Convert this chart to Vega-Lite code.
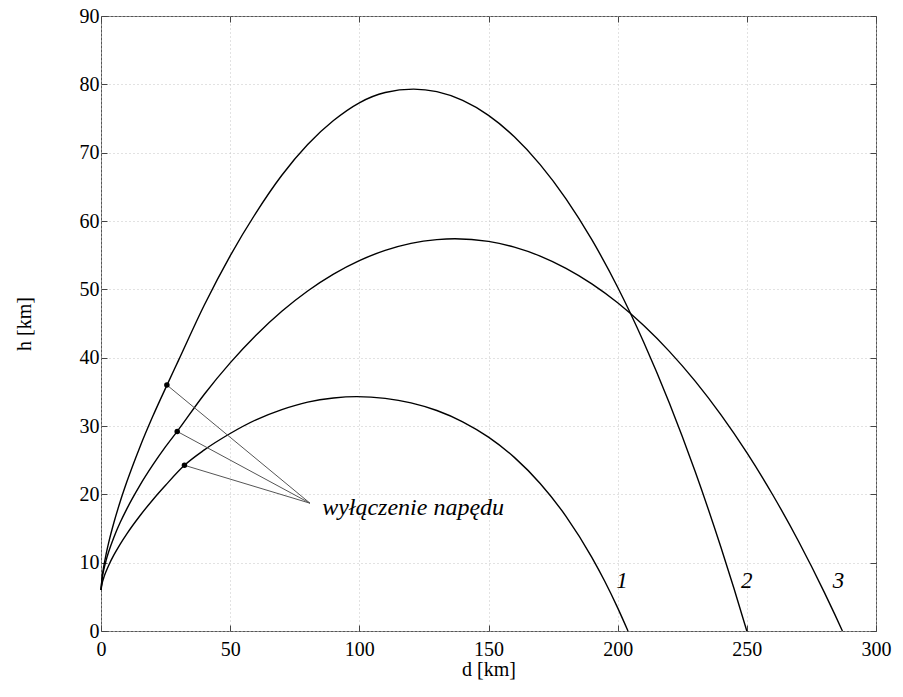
{
  "$schema": "https://vega.github.io/schema/vega-lite/v6.json",
  "width": 775,
  "height": 615,
  "autosize": "none",
  "padding": {"left": 101, "top": 16, "right": 27, "bottom": 66},
  "background": "white",
  "config": {
    "font": "Liberation Serif",
    "view": {"stroke": "#555", "strokeWidth": 1},
    "axis": {
      "labelFont": "Liberation Serif",
      "titleFont": "Liberation Serif",
      "labelFontSize": 20,
      "titleFontSize": 20,
      "titleFontWeight": "normal",
      "labelColor": "black",
      "titleColor": "black",
      "tickColor": "#444",
      "tickSize": -6,
      "domain": false,
      "gridColor": "#c4c4c4",
      "gridDash": [1, 3],
      "gridWidth": 1,
      "labelFlush": false,
      "labelOverlap": false
    }
  },
  "datasets": {
    "curves": [
      {"curve": "1", "d": 0, "h": 6},
      {"curve": "1", "d": 0.5, "h": 7.07},
      {"curve": "1", "d": 1, "h": 7.72},
      {"curve": "1", "d": 2, "h": 8.75},
      {"curve": "1", "d": 3, "h": 9.63},
      {"curve": "1", "d": 5, "h": 11.13},
      {"curve": "1", "d": 7.5, "h": 12.76},
      {"curve": "1", "d": 10, "h": 14.22},
      {"curve": "1", "d": 15, "h": 16.83},
      {"curve": "1", "d": 20, "h": 19.18},
      {"curve": "1", "d": 25, "h": 21.33},
      {"curve": "1", "d": 32.3, "h": 24.25},
      {"curve": "1", "d": 40, "h": 26.5},
      {"curve": "1", "d": 50, "h": 28.9},
      {"curve": "1", "d": 60, "h": 30.9},
      {"curve": "1", "d": 70, "h": 32.4},
      {"curve": "1", "d": 80, "h": 33.5},
      {"curve": "1", "d": 90, "h": 34.1},
      {"curve": "1", "d": 99, "h": 34.3},
      {"curve": "1", "d": 110, "h": 34.05},
      {"curve": "1", "d": 120, "h": 33.39},
      {"curve": "1", "d": 130, "h": 32.27},
      {"curve": "1", "d": 140, "h": 30.62},
      {"curve": "1", "d": 150, "h": 28.37},
      {"curve": "1", "d": 160, "h": 25.41},
      {"curve": "1", "d": 170, "h": 21.59},
      {"curve": "1", "d": 180, "h": 16.78},
      {"curve": "1", "d": 190, "h": 10.78},
      {"curve": "1", "d": 195, "h": 7.28},
      {"curve": "1", "d": 200, "h": 3.39},
      {"curve": "1", "d": 204, "h": 0},
      {"curve": "2", "d": 0, "h": 6},
      {"curve": "2", "d": 0.5, "h": 8.06},
      {"curve": "2", "d": 1, "h": 9.3},
      {"curve": "2", "d": 2, "h": 11.29},
      {"curve": "2", "d": 3, "h": 12.97},
      {"curve": "2", "d": 5, "h": 15.87},
      {"curve": "2", "d": 7.5, "h": 19.02},
      {"curve": "2", "d": 10, "h": 21.83},
      {"curve": "2", "d": 15, "h": 26.87},
      {"curve": "2", "d": 20, "h": 31.38},
      {"curve": "2", "d": 25.5, "h": 35.95},
      {"curve": "2", "d": 30, "h": 39.6},
      {"curve": "2", "d": 40, "h": 47.7},
      {"curve": "2", "d": 50, "h": 54.9},
      {"curve": "2", "d": 60, "h": 61.2},
      {"curve": "2", "d": 70, "h": 66.7},
      {"curve": "2", "d": 80, "h": 71.2},
      {"curve": "2", "d": 90, "h": 74.7},
      {"curve": "2", "d": 100, "h": 77.3},
      {"curve": "2", "d": 110, "h": 78.8},
      {"curve": "2", "d": 121, "h": 79.3},
      {"curve": "2", "d": 130, "h": 78.93},
      {"curve": "2", "d": 140, "h": 77.64},
      {"curve": "2", "d": 150, "h": 75.45},
      {"curve": "2", "d": 160, "h": 72.32},
      {"curve": "2", "d": 170, "h": 68.25},
      {"curve": "2", "d": 180, "h": 63.24},
      {"curve": "2", "d": 190, "h": 57.26},
      {"curve": "2", "d": 200, "h": 50.31},
      {"curve": "2", "d": 210, "h": 42.34},
      {"curve": "2", "d": 220, "h": 33.37},
      {"curve": "2", "d": 230, "h": 23.33},
      {"curve": "2", "d": 240, "h": 12.22},
      {"curve": "2", "d": 245, "h": 6.26},
      {"curve": "2", "d": 250, "h": 0},
      {"curve": "3", "d": 0, "h": 6},
      {"curve": "3", "d": 0.5, "h": 7.85},
      {"curve": "3", "d": 1, "h": 8.85},
      {"curve": "3", "d": 2, "h": 10.38},
      {"curve": "3", "d": 3, "h": 11.63},
      {"curve": "3", "d": 5, "h": 13.73},
      {"curve": "3", "d": 7.5, "h": 15.94},
      {"curve": "3", "d": 10, "h": 17.88},
      {"curve": "3", "d": 15, "h": 21.28},
      {"curve": "3", "d": 20, "h": 24.26},
      {"curve": "3", "d": 25, "h": 26.97},
      {"curve": "3", "d": 29.5, "h": 29.21},
      {"curve": "3", "d": 40, "h": 34.65},
      {"curve": "3", "d": 50, "h": 39.24},
      {"curve": "3", "d": 60, "h": 43.28},
      {"curve": "3", "d": 70, "h": 46.78},
      {"curve": "3", "d": 80, "h": 49.75},
      {"curve": "3", "d": 90, "h": 52.22},
      {"curve": "3", "d": 100, "h": 54.2},
      {"curve": "3", "d": 110, "h": 55.7},
      {"curve": "3", "d": 120, "h": 56.73},
      {"curve": "3", "d": 130, "h": 57.27},
      {"curve": "3", "d": 137, "h": 57.4},
      {"curve": "3", "d": 150, "h": 57.01},
      {"curve": "3", "d": 160, "h": 56.17},
      {"curve": "3", "d": 170, "h": 54.86},
      {"curve": "3", "d": 180, "h": 53.07},
      {"curve": "3", "d": 190, "h": 50.8},
      {"curve": "3", "d": 200, "h": 48.03},
      {"curve": "3", "d": 210, "h": 44.73},
      {"curve": "3", "d": 220, "h": 40.92},
      {"curve": "3", "d": 230, "h": 36.56},
      {"curve": "3", "d": 240, "h": 31.62},
      {"curve": "3", "d": 250, "h": 26.09},
      {"curve": "3", "d": 260, "h": 19.94},
      {"curve": "3", "d": 270, "h": 13.14},
      {"curve": "3", "d": 280, "h": 5.66},
      {"curve": "3", "d": 284, "h": 2.47},
      {"curve": "3", "d": 287, "h": 0}
    ],
    "burn": [
      {"curve": "2", "d": 25.5, "h": 36.0, "d2": 80.9, "h2": 18.7},
      {"curve": "3", "d": 29.5, "h": 29.2, "d2": 80.9, "h2": 18.7},
      {"curve": "1", "d": 32.3, "h": 24.25, "d2": 80.9, "h2": 18.7}
    ],
    "numbers": [
      {"d": 201.7, "h": 6.3, "t": "1"},
      {"d": 250, "h": 6.3, "t": "2"},
      {"d": 285.5, "h": 6.3, "t": "3"}
    ],
    "note": [
      {"d": 85.6, "h": 17.0, "t": "wyłączenie napędu"}
    ]
  },
  "resolve": {"axis": {"x": "independent", "y": "independent"}},
  "layer": [
    {
      "data": {"name": "curves"},
      "mark": {"type": "line", "color": "black", "strokeWidth": 1.4, "interpolate": "monotone"},
      "encoding": {
        "x": {
          "field": "d", "type": "quantitative",
          "scale": {"domain": [0, 300], "nice": false},
          "axis": {"orient": "bottom", "values": [0, 50, 100, 150, 200, 250, 300], "title": "d [km]", "grid": true, "labelPadding": 14, "titlePadding": 0}
        },
        "y": {
          "field": "h", "type": "quantitative",
          "scale": {"domain": [0, 90], "nice": false},
          "axis": {"orient": "left", "values": [0, 10, 20, 30, 40, 50, 60, 70, 80, 90], "title": "h [km]", "grid": true, "labelPadding": 8, "titlePadding": 45}
        },
        "detail": {"field": "curve"}
      }
    },
    {
      "data": {"name": "burn"},
      "mark": {"type": "rule", "color": "#555", "strokeWidth": 1},
      "encoding": {
        "x": {
          "field": "d", "type": "quantitative",
          "scale": {"domain": [0, 300], "nice": false},
          "axis": {"orient": "top", "values": [0, 50, 100, 150, 200, 250, 300], "title": null, "labels": false, "grid": false}
        },
        "y": {
          "field": "h", "type": "quantitative",
          "scale": {"domain": [0, 90], "nice": false},
          "axis": {"orient": "right", "values": [0, 10, 20, 30, 40, 50, 60, 70, 80, 90], "title": null, "labels": false, "grid": false}
        },
        "x2": {"field": "d2"},
        "y2": {"field": "h2"}
      }
    },
    {
      "data": {"name": "burn"},
      "mark": {"type": "circle", "color": "black", "size": 30, "opacity": 1},
      "encoding": {
        "x": {"field": "d", "type": "quantitative", "scale": {"domain": [0, 300], "nice": false}, "axis": null},
        "y": {"field": "h", "type": "quantitative", "scale": {"domain": [0, 90], "nice": false}, "axis": null}
      }
    },
    {
      "data": {"name": "numbers"},
      "mark": {"type": "text", "font": "Liberation Serif", "fontStyle": "italic", "fontSize": 23, "align": "center", "baseline": "alphabetic", "color": "black"},
      "encoding": {
        "x": {"field": "d", "type": "quantitative", "scale": {"domain": [0, 300], "nice": false}, "axis": null},
        "y": {"field": "h", "type": "quantitative", "scale": {"domain": [0, 90], "nice": false}, "axis": null},
        "text": {"field": "t"}
      }
    },
    {
      "data": {"name": "note"},
      "mark": {"type": "text", "font": "Liberation Serif", "fontStyle": "italic", "fontSize": 24, "align": "left", "baseline": "alphabetic", "color": "black"},
      "encoding": {
        "x": {"field": "d", "type": "quantitative", "scale": {"domain": [0, 300], "nice": false}, "axis": null},
        "y": {"field": "h", "type": "quantitative", "scale": {"domain": [0, 90], "nice": false}, "axis": null},
        "text": {"field": "t"}
      }
    }
  ]
}
